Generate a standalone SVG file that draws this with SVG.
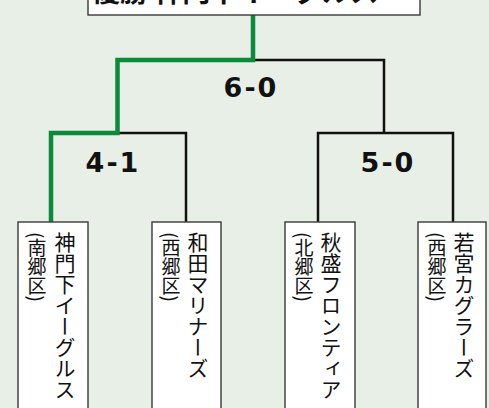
<svg xmlns="http://www.w3.org/2000/svg" width="489" height="408" viewBox="0 0 489 408">
<style>
.bg{fill:#e8efe6}
.box{fill:#fff;stroke:#3a3a3a;stroke-width:1.4}
.ln{fill:none;stroke:#111;stroke-width:2.5}
.win{fill:none;stroke:#0b8a3a;stroke-width:4.5}
.score{font-family:"DejaVu Sans","Liberation Sans",sans-serif;font-weight:bold;font-size:27px;fill:#111;text-anchor:middle;letter-spacing:2px}
.name{font-family:"Noto Sans CJK JP",sans-serif;font-size:21px;fill:#111;writing-mode:vertical-rl}
.sub{font-family:"Noto Sans CJK JP",sans-serif;font-size:19px;fill:#111;writing-mode:vertical-rl}
.title{font-family:"Noto Sans CJK JP",sans-serif;font-weight:bold;font-size:28px;fill:#111}
</style>
<rect class="bg" x="0" y="0" width="489" height="408"/>
<g id="connectors">
<path class="ln" d="M253 60 H384 V133"/>
<path class="ln" d="M117 133 H186 V222"/>
<path class="ln" d="M318 222 V133 H453 V222"/>
<path class="win" d="M253 15 V60 H117.5 V133 H51 V222"/>
</g>
<g id="champion">
<rect class="box" x="88" y="-30" width="332" height="45"/>
<text class="title" x="92" y="2">優勝 神門下イーグルス</text>
</g>
<g id="scores">
<text class="score" x="251" y="97">6-0</text>
<text class="score" x="113" y="172">4-1</text>
<text class="score" x="388" y="172">5-0</text>
</g>
<g id="team1">
<rect class="box" x="18" y="222" width="70" height="200"/>
<text class="name" x="65" y="232">神門下イーグルス</text>
<text class="sub" x="37" y="232">(南郷区)</text>
</g>
<g id="team2">
<rect class="box" x="152" y="222" width="69" height="200"/>
<text class="name" x="198" y="232">和田マリナーズ</text>
<text class="sub" x="171" y="232">(西郷区)</text>
</g>
<g id="team3">
<rect class="box" x="285" y="222" width="70" height="200"/>
<text class="name" x="331" y="232">秋盛フロンティア</text>
<text class="sub" x="304" y="232">(北郷区)</text>
</g>
<g id="team4">
<rect class="box" x="418" y="222" width="68" height="200"/>
<text class="name" x="464" y="232">若宮カグラーズ</text>
<text class="sub" x="437" y="232">(西郷区)</text>
</g>
</svg>
